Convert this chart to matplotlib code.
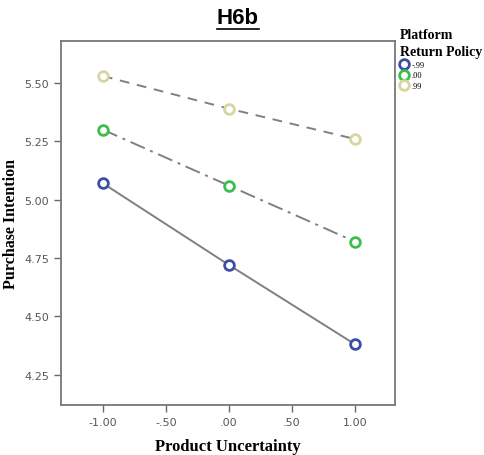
import matplotlib
matplotlib.use("Agg")
import matplotlib.pyplot as plt
from matplotlib.lines import Line2D

uncertainty = [-1.0, 0.0, 1.0]
policy_labels = ['-.99', '.00', '.99']
intention_low = [5.07, 4.72, 4.38]
intention_mid = [5.30, 5.06, 4.82]
intention_high = [5.53, 5.39, 5.26]

x_ticks = [-1.0, -0.5, 0.0, 0.5, 1.0]
x_tick_labels = ['-1.00', '-.50', '.00', '.50', '1.00']
y_ticks = [4.25, 4.50, 4.75, 5.00, 5.25, 5.50]
y_tick_labels = ['4.25', '4.50', '4.75', '5.00', '5.25', '5.50']

series = [
    (intention_low, '#3d4fa3', '-'),
    (intention_mid, '#3cbf4a', (0, (8, 3, 1.5, 3))),
    (intention_high, '#d6d6a3', (0, (5, 4))),
]

fig = plt.figure(figsize=(4.85, 4.56), dpi=100)
ax = fig.add_axes([0.1258, 0.1096, 0.6887, 0.7982])

for (vals, col, ls), lab in zip(series, policy_labels):
    ax.plot(uncertainty, vals, color='#808080', linestyle=ls, linewidth=1.4,
            zorder=2)
    ax.plot(uncertainty, vals, linestyle='none', marker='o', markersize=7,
            markerfacecolor='white', markeredgecolor=col, markeredgewidth=2.0,
            label=lab, zorder=3)

ax.set_xlim(-1.333, 1.317)
ax.set_ylim(4.12, 5.68)
ax.set_xticks(x_ticks)
ax.set_xticklabels(x_tick_labels)
ax.set_yticks(y_ticks)
ax.set_yticklabels(y_tick_labels)
ax.tick_params(direction='out', length=5, width=1, color='#666666',
               labelcolor='#555555', labelsize=8)
for sp in ax.spines.values():
    sp.set_color('#777777')
    sp.set_linewidth(1.3)

ax.set_xlabel('Product Uncertainty', family='Liberation Serif',
              weight='bold', size=12, labelpad=8)
ax.set_ylabel('Purchase Intention', family='Liberation Serif',
              weight='bold', size=11.5)
ax.yaxis.set_label_coords(-0.126, 0.5)

leg = ax.legend(loc='upper left', bbox_to_anchor=(1.005, 1.045), frameon=False,
                title='Platform\nReturn Policy', alignment='left',
                prop=dict(family='Liberation Serif', size=6),
                title_fontproperties=dict(family='Liberation Serif',
                                          weight='bold', size=10),
                handletextpad=0.4, labelspacing=0.3, handlelength=1.0,
                borderaxespad=0.0)
leg.get_title().set_linespacing(1.45)

title = fig.text(0.49, 0.96, 'H6b', ha='center', va='center',
                 fontsize=16, fontweight='bold', family='Liberation Sans')
fig.canvas.draw()
bb = title.get_window_extent().transformed(fig.transFigure.inverted())
fig.add_artist(Line2D([bb.x0, bb.x1], [bb.y0 - 0.002, bb.y0 - 0.002],
                      transform=fig.transFigure, color='black', linewidth=1.2))

fig.savefig('out.png', dpi=100)
